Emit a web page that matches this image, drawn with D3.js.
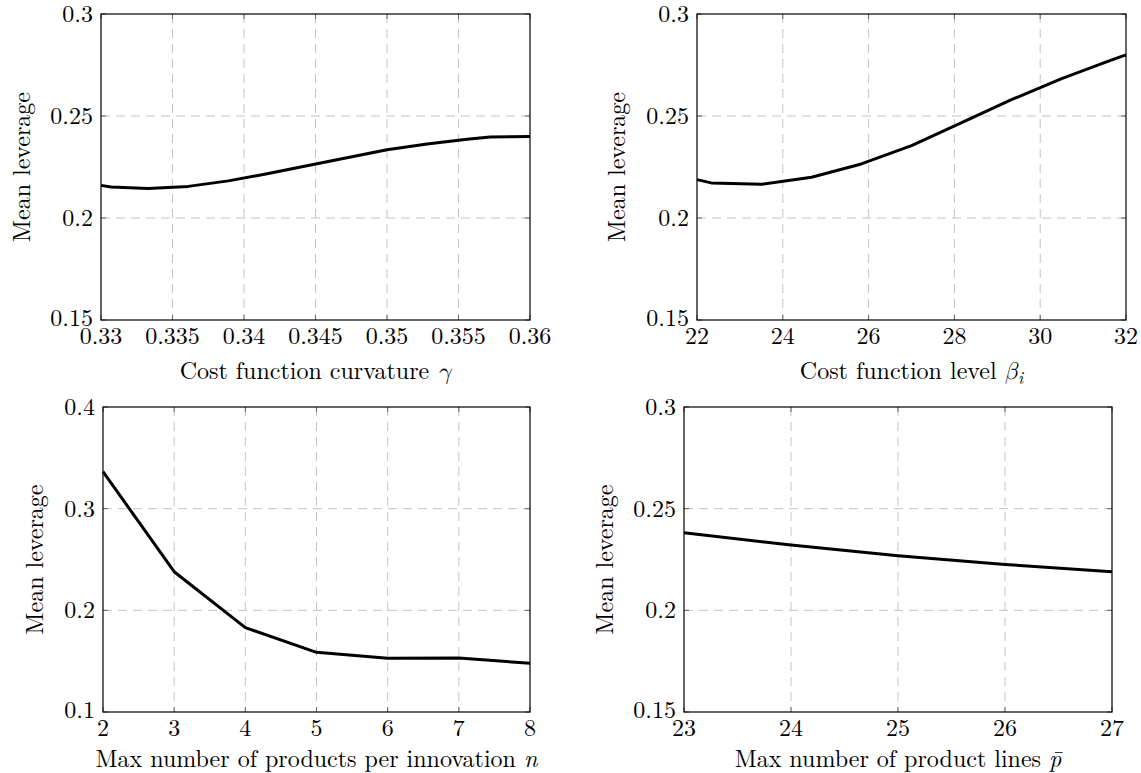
<!DOCTYPE html>
<html>
<head>
<meta charset="utf-8">
<script src="https://cdn.jsdelivr.net/npm/d3@7"></script>
<style>
  html, body { margin: 0; padding: 0; background: #fff; }
</style>
</head>
<body>
<svg id="chart" width="1141" height="773"></svg>
<script>
// ---- Data ----
const gammaX = [0.33, 0.3307, 0.3333, 0.3361, 0.3389, 0.3417, 0.3444, 0.3472, 0.35, 0.3528, 0.3556, 0.3572, 0.36];
const gammaY = [0.2160, 0.2152, 0.2145, 0.2155, 0.2182, 0.2218, 0.2256, 0.2295, 0.2335, 0.2363, 0.2386, 0.2397, 0.2400];

const betaX = [22, 22.33, 23.5, 24.67, 25.83, 27, 28.17, 29.33, 30.5, 31.67, 32];
const betaY = [0.2188, 0.2172, 0.2165, 0.2200, 0.2265, 0.2355, 0.2467, 0.2580, 0.2683, 0.2775, 0.2800];

const nX = [2, 3, 4, 5, 6, 7, 8];
const nY = [0.3364, 0.2380, 0.1830, 0.1587, 0.1528, 0.1530, 0.1479];

const pX = [23, 24, 25, 26, 27];
const pY = [0.2382, 0.2321, 0.2269, 0.2226, 0.2190];

const gammaTicks = [0.33, 0.335, 0.34, 0.345, 0.35, 0.355, 0.36];
const gammaTickLabels = ["0.33", "0.335", "0.34", "0.345", "0.35", "0.355", "0.36"];
const betaTicks = [22, 24, 26, 28, 30, 32];
const nTicks = [2, 3, 4, 5, 6, 7, 8];
const pTicks = [23, 24, 25, 26, 27];
const yTicksA = [0.15, 0.2, 0.25, 0.3];
const yTicksALabels = ["0.15", "0.2", "0.25", "0.3"];
const yTicksN = [0.1, 0.2, 0.3, 0.4];
const yTicksNLabels = ["0.1", "0.2", "0.3", "0.4"];

const yLabel = "Mean leverage";

// ---- Layout ----
const panels = [
  { xs: gammaX, ys: gammaY, xDom: [0.33, 0.36], yDom: [0.15, 0.3], xt: gammaTicks, xtl: gammaTickLabels,
    yt: yTicksA, ytl: yTicksALabels, box: [101, 14, 530, 320], ylx: 22, tOff: 59,
    title: [["Cost function curvature ", false], ["γ", true, "greek"]] },
  { xs: betaX, ys: betaY, xDom: [22, 32], yDom: [0.15, 0.3], xt: betaTicks, xtl: betaTicks.map(String),
    yt: yTicksA, ytl: yTicksALabels, box: [697, 14, 1126, 320], ylx: 617, tOff: 59,
    title: [["Cost function level ", false], ["β", true, "greek"], ["i", true, "sub"]] },
  { xs: nX, ys: nY, xDom: [2, 8], yDom: [0.1, 0.4], xt: nTicks, xtl: nTicks.map(String),
    yt: yTicksN, ytl: yTicksNLabels, box: [103, 407, 530, 712], ylx: 35, tOff: 55,
    title: [["Max number of products per innovation ", false], ["n", true]] },
  { xs: pX, ys: pY, xDom: [23, 27], yDom: [0.15, 0.3], xt: pTicks, xtl: pTicks.map(String),
    yt: yTicksA, ytl: yTicksALabels, box: [684, 407, 1112, 712], ylx: 605, tOff: 55,
    title: [["Max number of product lines ", false], ["p\u0304", true]] }
];

const FONT = '"Latin Modern Roman", "Liberation Serif", "DejaVu Serif", serif';
const GREEK_FONT = '"Latin Modern Math", "Latin Modern Roman", "Liberation Serif", serif';
const svg = d3.select("#chart");
const FS = 24;

function txt(sel) { return sel.style("font-family", FONT).style("fill", "#000"); }

panels.forEach(p => {
  const [x0, y0, x1, y1] = p.box;
  const x = d3.scaleLinear().domain(p.xDom).range([x0, x1]);
  const y = d3.scaleLinear().domain(p.yDom).range([y1, y0]);
  const g = svg.append("g");

  // grid
  g.selectAll(".vg").data(p.xt.slice(1, -1)).enter().append("line")
    .attr("x1", d => x(d)).attr("x2", d => x(d)).attr("y1", y0).attr("y2", y1)
    .attr("stroke", "#c4c4c4").attr("stroke-width", 1).attr("stroke-dasharray", "9,6");
  g.selectAll(".hg").data(p.yt.slice(1, -1)).enter().append("line")
    .attr("x1", x0).attr("x2", x1).attr("y1", d => y(d)).attr("y2", d => y(d))
    .attr("stroke", "#c4c4c4").attr("stroke-width", 1).attr("stroke-dasharray", "9,6");

  // inner ticks
  const tl = 5;
  p.xt.forEach(d => {
    g.append("line").attr("x1", x(d)).attr("x2", x(d)).attr("y1", y1).attr("y2", y1 - tl).attr("stroke", "#666");
    g.append("line").attr("x1", x(d)).attr("x2", x(d)).attr("y1", y0).attr("y2", y0 + tl).attr("stroke", "#666");
  });
  p.yt.forEach(d => {
    g.append("line").attr("x1", x0).attr("x2", x0 + tl).attr("y1", y(d)).attr("y2", y(d)).attr("stroke", "#666");
    g.append("line").attr("x1", x1).attr("x2", x1 - tl).attr("y1", y(d)).attr("y2", y(d)).attr("stroke", "#666");
  });

  // data line
  const data = p.xs.map((v, i) => [v, p.ys[i]]);
  g.append("path").datum(data)
    .attr("d", d3.line().x(d => x(d[0])).y(d => y(d[1])))
    .attr("fill", "none").attr("stroke", "#000").attr("stroke-width", 3)
    .attr("stroke-linejoin", "round");

  // frame
  g.append("rect").attr("x", x0).attr("y", y0).attr("width", x1 - x0).attr("height", y1 - y0)
    .attr("fill", "none").attr("stroke", "#000").attr("stroke-width", 1.2);

  // tick labels
  txt(g.selectAll(".xl").data(p.xt).enter().append("text"))
    .attr("x", d => x(d)).attr("y", y1 + 24).attr("text-anchor", "middle")
    .style("font-size", FS + "px").text((d, i) => p.xtl[i]);
  txt(g.selectAll(".yl").data(p.yt).enter().append("text"))
    .attr("x", x0 - 8).attr("y", (d, i) => y(d) + (i === 0 ? 6 : 8)).attr("text-anchor", "end")
    .style("font-size", FS + "px").text((d, i) => p.ytl[i]);

  // x title
  const t = txt(g.append("text")).attr("x", (x0 + x1) / 2).attr("y", y1 + p.tOff)
    .attr("text-anchor", "middle").style("font-size", FS + "px");
  p.title.forEach(seg => {
    const ts = t.append("tspan").text(seg[0]);
    if (seg[1]) ts.style("font-style", "italic");
    if (seg[2] === "greek") ts.style("font-family", GREEK_FONT);
    if (seg[2] === "sub") ts.style("font-size", (FS * 0.7) + "px").attr("dy", 5);
  });

  // y title
  txt(g.append("text"))
    .attr("transform", `translate(${p.ylx},${(y0 + y1) / 2}) rotate(-90)`)
    .attr("text-anchor", "middle").attr("dy", 8).style("font-size", FS + "px").text(yLabel);
});
</script>
</body>
</html>
